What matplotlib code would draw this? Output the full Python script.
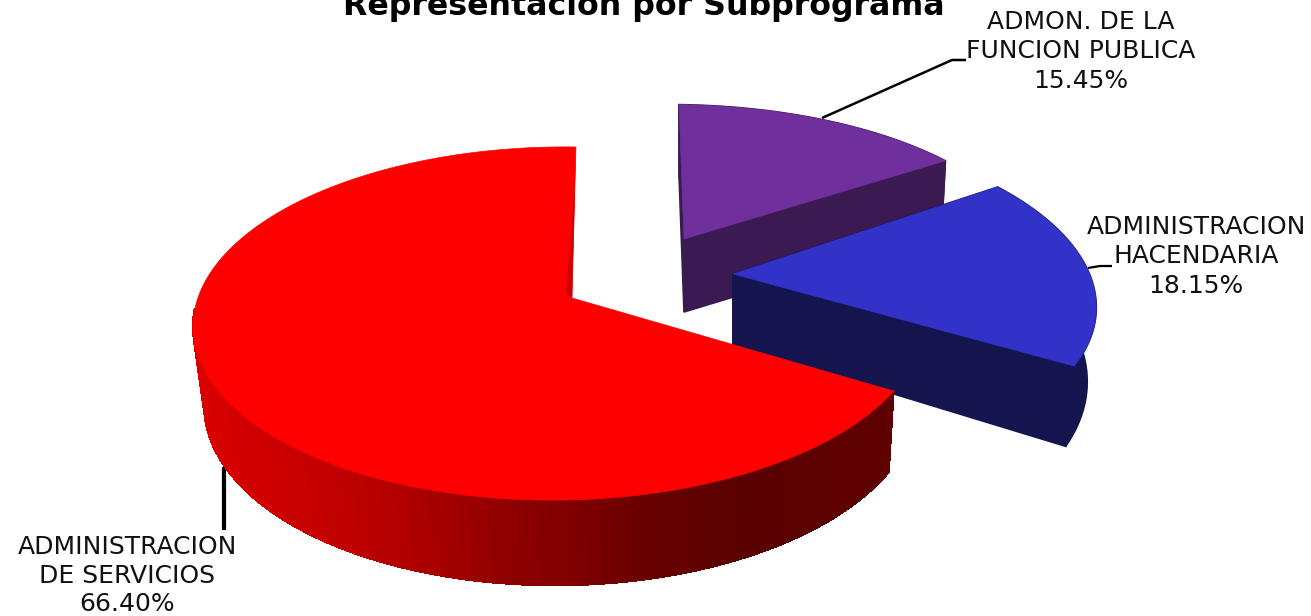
import numpy as np
import matplotlib
matplotlib.use("Agg")
import matplotlib.pyplot as plt
from matplotlib.collections import PolyCollection
from matplotlib.patches import Polygon

title = "Representación por Subprograma"
label_lines = [["ADMINISTRACION", "DE SERVICIOS"],
               ["ADMINISTRACION", "HACENDARIA"],
               ["ADMON. DE LA", "FUNCION PUBLICA"]]
shares = [66.40, 18.15, 15.45]
start_angle = 90.0

# projection of the disc (perspective tilt)
KY, KX, A, B = 0.1445, 0.035, 361.0, 172.8

styles = [
    dict(apex=(572, 298), kx=1.0, ky=1.0, shear=-0.026, dx=2.5, dy=77.5, sx=0.977, sy=1.037, top="#ff0000"),
    dict(apex=(733, 274), kx=1.022, ky=0.99, shear=0.11, dx=0.0, dy=71.0, sx=0.975, sy=1.10, top="#3232c8", side="#14144f"),
    dict(apex=(684, 239), kx=0.985, ky=0.89, shear=0.037, dx=0.0, dy=73.0, sx=0.985, sy=1.0, top="#6f2f9d", side="#3b1a52"),
]
text_pos = [(127, (547, 576, 604)), (1196, (227, 256, 286)), (1081, (22, 51, 81))]
leaders = [([224, 224], [467, 530], 3.0), ([1088, 1100, 1112], [268, 266, 266], 1.6), ([822, 952, 966], [118, 60, 60], 1.8)]
grad_x = [195, 300, 400, 500, 570, 650, 750, 900]
grad_r = [218, 200, 178, 145, 128, 104, 90, 96]

def rim(theta_deg, st, bottom=False):
    t = np.radians(theta_deg)
    X, Y = np.cos(t), np.sin(t)
    d = 1 + KY * Y + KX * X
    u = A * X / d * st["kx"]
    v = -B * Y / d * st["ky"]
    u = u + st["shear"] * v
    if bottom:
        return np.column_stack([st["apex"][0] + st["dx"] + st["sx"] * u,
                                st["apex"][1] + st["dy"] + st["sy"] * v])
    return np.column_stack([st["apex"][0] + u, st["apex"][1] + v])

def apex_pts(st, bottom=False):
    x, y = st["apex"]
    return np.array([[x, y + (st["dy"] if bottom else 0)]], float)

fig = plt.figure(figsize=(13.11, 6.16), dpi=100, facecolor="white")
ax = fig.add_axes([0, 0, 1, 1])
ax.set_xlim(0, 1311)
ax.set_ylim(616, 0)
ax.axis("off")

edges = start_angle + np.cumsum([0] + [s * 3.6 for s in shares])
spans = [(edges[i], edges[i + 1]) for i in range(3)]

def draw_flat(i, z):
    st = styles[i]
    a, b = spans[i]
    th = np.linspace(a, b, 200)
    top, bot = rim(th, st), rim(th, st, True)
    end_wall = np.vstack([apex_pts(st), top[-1:], bot[-1:], apex_pts(st, True)])
    start_wall = np.vstack([apex_pts(st), top[:1], bot[:1], apex_pts(st, True)])
    outer = np.vstack([top, bot[::-1]])
    c = st["side"]
    for poly in (outer, start_wall, end_wall):
        ax.add_patch(Polygon(poly, closed=True, fc=c, ec=c, lw=1.2, zorder=z))
    ax.add_patch(Polygon(np.vstack([apex_pts(st), top]), closed=True, fc=st["top"], ec=st["top"], lw=0.5, zorder=z + 1))

# purple, then blue, then the large red slice in front
draw_flat(2, 1)
draw_flat(1, 3)

st = styles[0]
a, b = spans[0]
th = np.linspace(a, b, 500)
top, bot = rim(th, st), rim(th, st, True)
quads, cols = [], []
for k in range(len(th) - 1):
    if th[k] < 183:   # the far part of the rim is hidden behind the top face
        continue
    quads.append([top[k], top[k + 1], bot[k + 1], bot[k]])
    r = np.interp((top[k, 0] + top[k + 1, 0]) / 2, grad_x, grad_r) / 255
    cols.append((r, 0, 0))
ax.add_collection(PolyCollection(quads, facecolors=cols, edgecolors=cols, linewidths=1.0, antialiaseds=False, zorder=5))
ax.add_patch(Polygon(np.vstack([apex_pts(st), top]), closed=True, fc="#ff0000", ec="#ff0000", lw=0.5, zorder=6))
# thin inner wall visible next to the first edge
ax.add_patch(Polygon(np.vstack([apex_pts(st), top[:1], [[top[0, 0] - 2, top[0, 1] + 50]], [[st["apex"][0] - 6, st["apex"][1] - 4]]]),
                     closed=True, fc="#d00000", ec="none", zorder=7))

for (xs, ys, lw) in leaders:
    ax.plot(xs, ys, color="black", lw=lw, zorder=0.5, solid_capstyle="butt", solid_joinstyle="round")

fs = 18.0
for lines, share, (x, ys) in zip(label_lines, shares, text_pos):
    for line, y in zip(lines + [f"{share:.2f}%"], ys):
        ax.text(x, y, line, ha="center", va="center", fontsize=fs, family="DejaVu Sans", color="#111111", zorder=10)

ax.text(644, 15, title, ha="center", va="baseline", fontsize=22.8, fontweight="bold", family="DejaVu Sans", color="black", zorder=10)

fig.savefig("out.png", dpi=100, facecolor="white")
